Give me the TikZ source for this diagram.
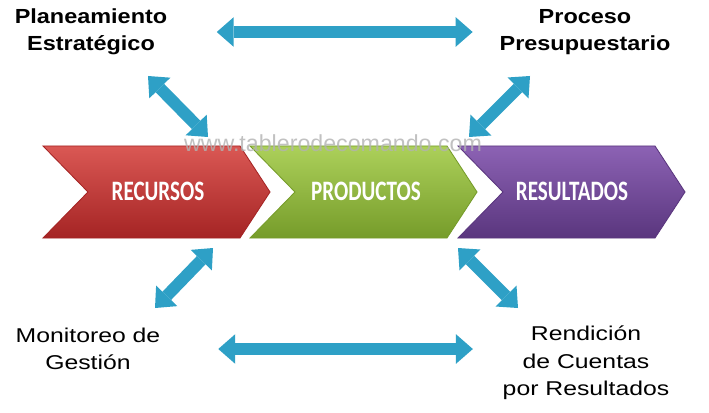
\documentclass[tikz,border=0pt]{standalone}
\usepackage{fontspec}
\setmainfont{Liberation Sans}
\newfontfamily\chevfont{Carlito}
\usepackage{tikz}
\usetikzlibrary{arrows.meta, positioning}

\definecolor{linkcyan}{RGB}{46, 160, 198}
\definecolor{redtop}{RGB}{218, 88, 84}
\definecolor{redmid}{RGB}{200, 56, 54}
\definecolor{redbot}{RGB}{165, 36, 36}
\definecolor{greentop}{RGB}{172, 208, 90}
\definecolor{greenmid}{RGB}{150, 190, 64}
\definecolor{greenbot}{RGB}{118, 156, 42}
\definecolor{purpletop}{RGB}{140, 98, 180}
\definecolor{purplemid}{RGB}{114, 74, 154}
\definecolor{purplebot}{RGB}{90, 54, 126}

\begin{document}
\begin{tikzpicture}[x=0.025cm, y=-0.025cm,
  topnote/.style={font=\fontsize{14.5}{19.2}\selectfont\bfseries, align=center, xscale=1.15, inner sep=0pt},
  lownote/.style={font=\fontsize{14.2}{19.6}\selectfont, align=center, xscale=1.24, inner sep=0pt},
  chevlabel/.style={font=\chevfont\bfseries\fontsize{20}{22}\selectfont, text=white, xscale=0.75},
  twoway/.style={line width=8.5pt, draw=linkcyan,
    {Triangle[width=21pt, length=12pt, line width=0pt]}-{Triangle[width=21pt, length=12pt, line width=0pt]}}]

  \fill[white] (0,0) rectangle (709,413);
  \useasboundingbox (0,0) rectangle (709,413);

  % chevrons
  \shade[top color=redtop, middle color=redmid, bottom color=redbot, draw=redbot, line width=0.6pt]
    (43,146) -- (240,146) -- (270,192) -- (240,238) -- (43,238) -- (88,192) -- cycle;
  \shade[top color=greentop, middle color=greenmid, bottom color=greenbot, draw=greenbot, line width=0.6pt]
    (250,146) -- (447,146) -- (477,192) -- (447,238) -- (250,238) -- (295,192) -- cycle;
  \shade[top color=purpletop, middle color=purplemid, bottom color=purplebot, draw=purplebot, line width=0.6pt]
    (458,146) -- (655,146) -- (685,192) -- (655,238) -- (458,238) -- (503,192) -- cycle;

  \node[chevlabel] (rec) at (158,191) {RECURSOS};
  \node[chevlabel] (prod) at (366,191) {PRODUCTOS};
  \node[chevlabel] (res) at (572,191) {RESULTADOS};

  % corner texts
  \node[topnote] (plan) at (91,32) {Planeamiento\\Estratégico};
  \node[topnote] (proc) at (585,32) {Proceso\\Presupuestario};
  \node[lownote] (moni) at (88,349) {Monitoreo de\\Gestión};
  \node[lownote] (rend) at (586,363) {Rendición\\de Cuentas\\por Resultados};

  % ends of the slanted links
  \coordinate (planfoot) at (148,76);
  \coordinate (recfoot) at (208,137);
  \coordinate (procfoot) at (530,76);
  \coordinate (resfoot) at (469,137);
  \coordinate (recbase) at (213,248);
  \coordinate (monihead) at (155,308);
  \coordinate (resbase) at (458,248);
  \coordinate (rendhead) at (518,308);

  % links
  \draw[twoway, shorten <=35pt, shorten >=19pt] (plan.east) -- (proc.west);
  \draw[twoway, shorten <=41pt, shorten >=21pt] (moni.east) -- (moni.east -| rend.west);
  \draw[twoway] (planfoot) -- (recfoot);
  \draw[twoway] (procfoot) -- (resfoot);
  \draw[twoway] (recbase) -- (monihead);
  \draw[twoway] (resbase) -- (rendhead);

  % watermark
  \node[font=\fontsize{16.5}{18}\selectfont, text=black!30, opacity=0.8] (mark) at (333,143) {www.tablerodecomando.com};
\end{tikzpicture}
\end{document}
